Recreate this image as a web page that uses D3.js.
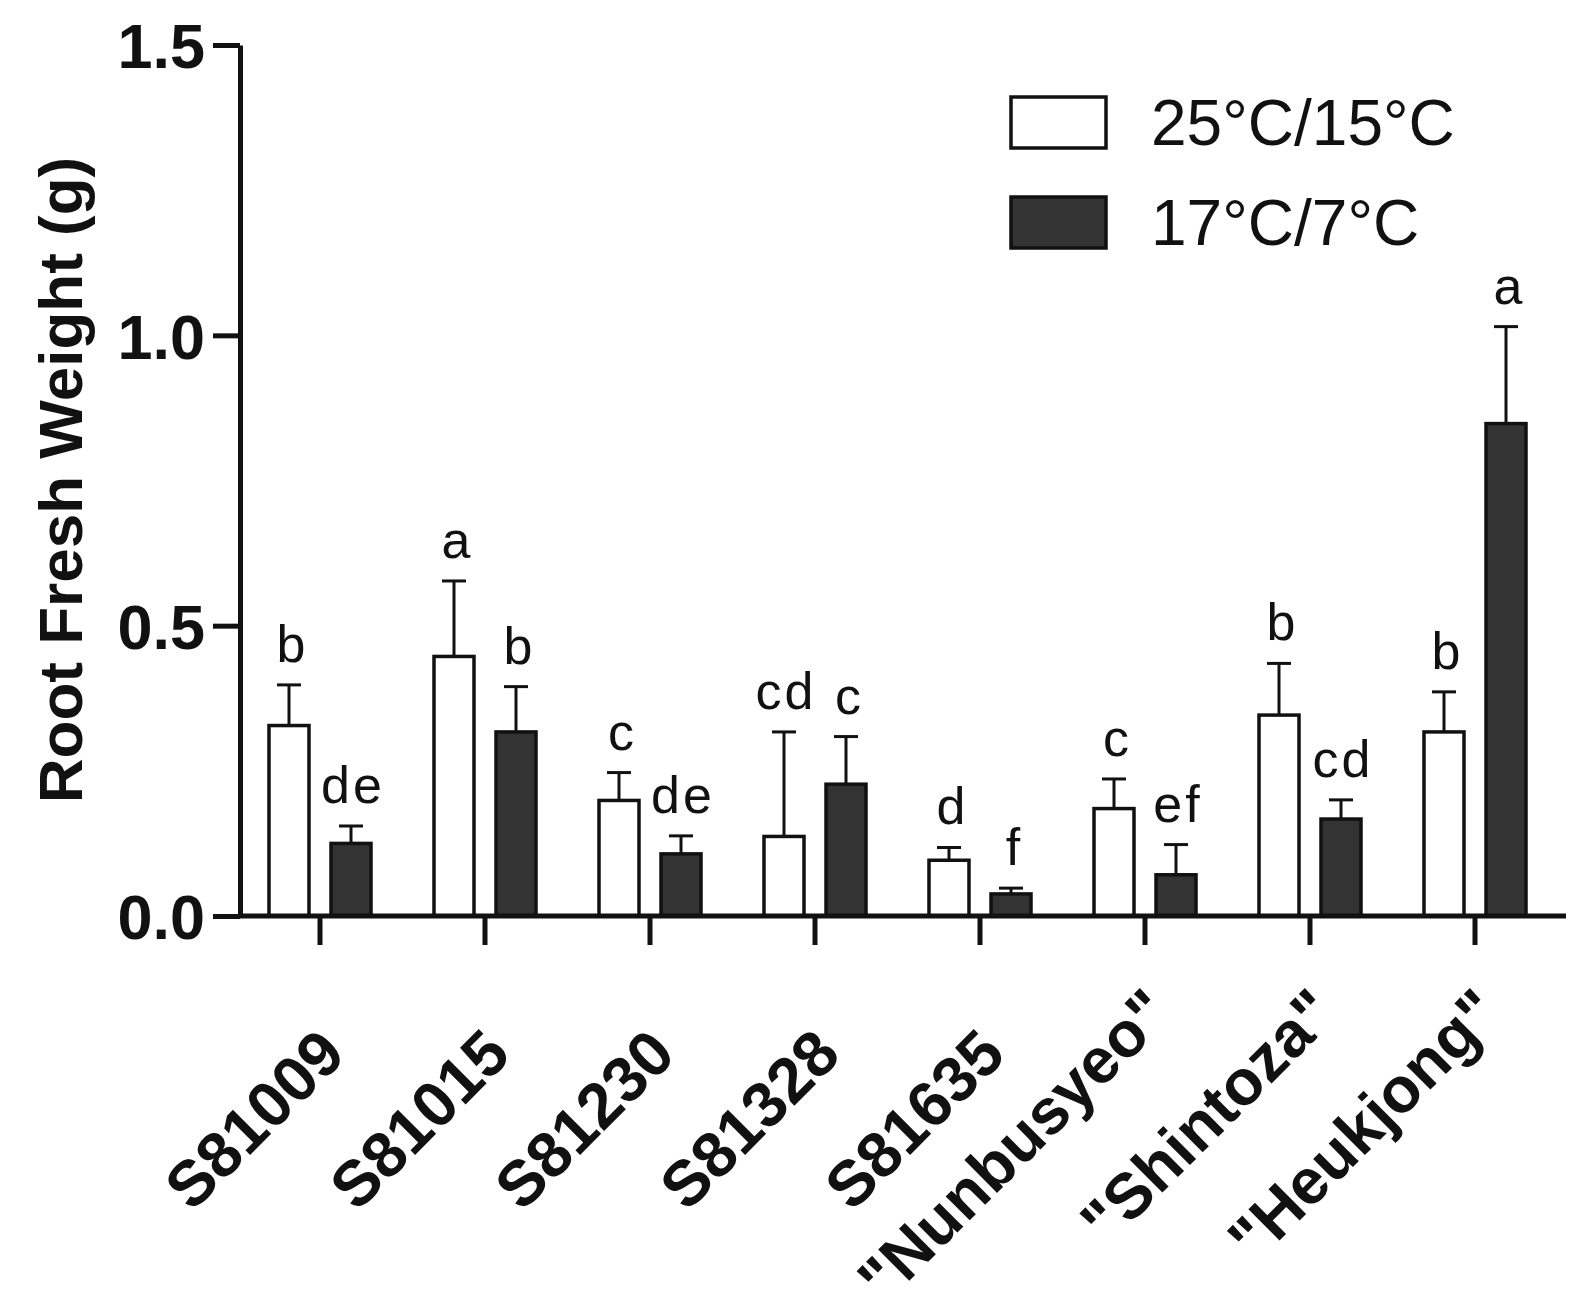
<!DOCTYPE html>
<html>
<head>
<meta charset="utf-8">
<script src="https://cdn.jsdelivr.net/npm/d3@7"></script>
<style>
  body { margin: 0; background: #fff; }
  svg { display: block; font-family: "Liberation Sans", Arial, sans-serif; }
</style>
</head>
<body>
<svg class="chart" width="1576" height="1305"></svg>
<script>
// values
var categories = ["S81009", "S81015", "S81230", "S81328", "S81635", "\"Nunbusyeo\"", "\"Shintoza\"", "\"Heukjong\""];
var warm = [0.328, 0.447, 0.199, 0.137, 0.096, 0.185, 0.346, 0.317];
var warmErr = [0.070, 0.130, 0.048, 0.180, 0.022, 0.051, 0.089, 0.069];
var cool = [0.125, 0.317, 0.107, 0.227, 0.038, 0.071, 0.167, 0.848];
var coolErr = [0.030, 0.078, 0.031, 0.082, 0.010, 0.052, 0.033, 0.167];
var warmLetters = ["b", "a", "c", "cd", "d", "c", "b", "b"];
var coolLetters = ["de", "b", "de", "c", "f", "ef", "cd", "a"];
var seriesKeys = ["warm", "cool"];
var seriesNames = ["25\u00B0C/15\u00B0C", "17\u00B0C/7\u00B0C"];
var yTicks = [0, 0.5, 1.0, 1.5];

var svg = d3.select("svg.chart");

var x0 = d3.scaleBand()
    .domain(categories)
    .range([237.5, 1557.5])
    .padding(0);

var x1 = d3.scaleBand()
    .domain(seriesKeys)
    .range([0, x0.bandwidth()])
    .paddingInner(0.355)
    .paddingOuter(0.508);

var y = d3.scaleLinear()
    .domain([0, 1.5])
    .range([916, 45]);

var fill = d3.scaleOrdinal()
    .domain(seriesKeys)
    .range(["#ffffff", "#333333"]);

var rows = [];
categories.forEach(function(c, i) {
  rows.push({cat: c, key: "warm", v: warm[i], e: warmErr[i], lab: warmLetters[i]});
  rows.push({cat: c, key: "cool", v: cool[i], e: coolErr[i], lab: coolLetters[i]});
});

function cx(d) { return x0(d.cat) + x1(d.key) + x1.bandwidth() / 2; }

var g = svg.append("g");

// error bars, upper side only
var err = g.append("g").attr("stroke", "#111").attr("stroke-width", 3);
err.selectAll("line.stem")
  .data(rows)
  .enter().append("line")
    .attr("x1", cx)
    .attr("x2", cx)
    .attr("y1", function(d) { return y(d.v); })
    .attr("y2", function(d) { return y(d.v + d.e); });
err.selectAll("line.cap")
  .data(rows)
  .enter().append("line")
    .attr("x1", function(d) { return cx(d) - 12; })
    .attr("x2", function(d) { return cx(d) + 12; })
    .attr("y1", function(d) { return y(d.v + d.e); })
    .attr("y2", function(d) { return y(d.v + d.e); });

g.append("g")
  .selectAll("rect")
  .data(rows)
  .enter().append("rect")
    .attr("x", function(d) { return x0(d.cat) + x1(d.key); })
    .attr("y", function(d) { return y(d.v); })
    .attr("width", x1.bandwidth())
    .attr("height", function(d) { return y(0) - y(d.v); })
    .attr("fill", function(d) { return fill(d.key); })
    .attr("stroke", "#111")
    .attr("stroke-width", 3.5);

// significance letters
g.append("g")
    .attr("font-size", 52)
    .attr("text-anchor", "middle")
    .attr("fill", "#111")
  .selectAll("text")
  .data(rows)
  .enter().append("text")
    .attr("x", function(d) { return cx(d) + 2; })
    .attr("y", function(d) { return y(d.v + d.e) - 23; })
    .attr("letter-spacing", function(d) { return d.lab.length > 1 ? 3 : 0; })
    .text(function(d) { return d.lab; });

// y axis
var yAxis = svg.append("g")
    .attr("transform", "translate(240,0)")
    .call(d3.axisLeft(y).tickValues(yTicks).tickFormat(d3.format(".1f")).tickSize(27).tickSizeOuter(0).tickPadding(8));
yAxis.select(".domain").attr("stroke-width", 5).attr("stroke", "#111");
yAxis.selectAll(".tick line").attr("stroke-width", 5).attr("stroke", "#111");
yAxis.selectAll(".tick text")
    .attr("font-size", 63)
    .attr("font-weight", "bold")
    .attr("fill", "#111")
    .attr("dy", "0.36em")
    .style("font-family", "\"Liberation Sans\", Arial, sans-serif");

// x axis
var xAxis = svg.append("g")
    .attr("transform", "translate(0," + y(0) + ")")
    .call(d3.axisBottom(x0).tickSize(29).tickSizeOuter(0));
xAxis.select(".domain").remove();
xAxis.append("line")
    .attr("x1", 238)
    .attr("x2", 1566)
    .attr("stroke", "#111")
    .attr("stroke-width", 5);
xAxis.selectAll(".tick line").attr("stroke-width", 5).attr("stroke", "#111");
xAxis.selectAll(".tick text")
    .attr("x", 0)
    .attr("y", 0)
    .attr("dy", 0)
    .attr("text-anchor", "end")
    .attr("transform", function(d) {
      var quoted = d.charAt(0) === "\"";
      return quoted ? "translate(29,100) rotate(-45)" : "translate(28,141) rotate(-45)";
    })
    .attr("font-size", 64)
    .attr("font-weight", "bold")
    .attr("fill", "#111")
    .style("font-family", "\"Liberation Sans\", Arial, sans-serif");

// y label
svg.append("text")
    .attr("transform", "translate(82,480) rotate(-90)")
    .attr("text-anchor", "middle")
    .attr("font-size", 62)
    .attr("font-weight", "bold")
    .attr("fill", "#111")
    .text("Root Fresh Weight (g)");

// legend
var legend = svg.append("g")
  .selectAll("g")
  .data(seriesKeys)
  .enter().append("g")
    .attr("transform", function(d, i) { return "translate(1011," + (97 + i * 100) + ")"; });

legend.append("rect")
    .attr("width", 95)
    .attr("height", 51)
    .attr("fill", fill)
    .attr("stroke", "#111")
    .attr("stroke-width", 3.5);

legend.append("text")
    .attr("x", 140)
    .attr("y", 48)
    .attr("font-size", 64)
    .attr("fill", "#111")
    .text(function(d, i) { return seriesNames[i]; });
</script>
</body>
</html>
